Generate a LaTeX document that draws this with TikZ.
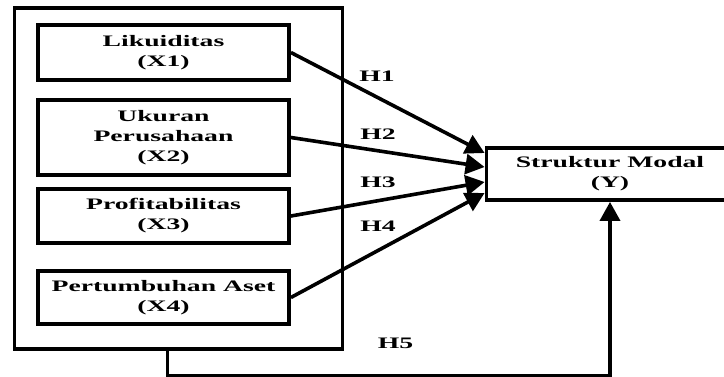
\documentclass[tikz,border=0pt]{standalone}
\usepackage{fontspec}
\setmainfont{Liberation Serif}[FakeStretch=1.73]
\usetikzlibrary{arrows.meta}
\begin{document}
\begin{tikzpicture}[x=1pt,y=-1pt,
  box/.style={draw,line width=3.8pt,inner sep=0pt,align=center,
    font=\fontsize{16}{20}\selectfont\bfseries},
  varbox/.style={box,minimum width=251pt},
  conn/.style={line width=3.6pt,-{Triangle[length=19pt,width=20pt]}},
  hlabel/.style={font=\fontsize{16}{20}\selectfont\bfseries,inner sep=0pt}]
\useasboundingbox (0,0) rectangle (724,376);
\clip (0,0) rectangle (724,376);

% group frame around the independent variables
\node[draw,line width=3.8pt,inner sep=0pt,minimum width=328pt,minimum height=340.5pt]
  (grp) at (178.5,178.5) {};

% independent variables
\node[varbox,minimum height=55pt] (x1) at (163.5,52.5) {Likuiditas\\(X1)};
\node[varbox,minimum height=75pt] (x2) at (163.5,137.5) {Ukuran\\Perusahaan\\(X2)};
\node[varbox,minimum height=54pt] (x3) at (163.5,216) {Profitabilitas\\(X3)};
\node[varbox,minimum height=53pt] (x4) at (163.5,297.5) {Pertumbuhan Aset\\(X4)};

% dependent variable
\node[box,minimum width=247pt,minimum height=52pt] (y) at (610,174) {Struktur Modal\\(Y)};

% arrow end points on the left side of Y
\coordinate (e1) at ([yshift=21pt]y.west);
\coordinate (e2) at ([yshift=7pt]y.west);
\coordinate (e3) at ([yshift=-8pt]y.west);
\coordinate (e4) at ([yshift=-19pt]y.west);

\draw[conn] (x1.east) -- (e1);
\draw[conn] (x2.east) -- (e2);
\draw[conn] (x3.east) -- (e3);
\draw[conn] (x4.east) -- (e4);

% joint effect from the whole group
\coordinate (g5) at ([xshift=-11pt]grp.south);
\draw[conn] (g5) -- ++(0,25) -| (y.south);

% hypothesis labels
\node[hlabel] (h1) at (377,76) {H1};
\node[hlabel] (h2) at (378,134) {H2};
\node[hlabel] (h3) at (378,182) {H3};
\node[hlabel] (h4) at (378,226) {H4};
\node[hlabel] (h5) at (395.5,343) {H5};
\end{tikzpicture}
\end{document}
